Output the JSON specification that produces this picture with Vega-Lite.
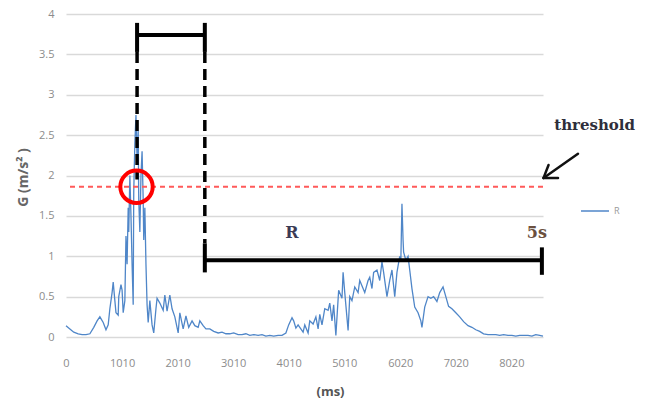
{
  "$schema": "https://vega.github.io/schema/vega-lite/v6.json",
  "width": 477,
  "height": 323,
  "autosize": {"type": "none"},
  "padding": {"left": 66, "top": 14, "right": 111, "bottom": 70},
  "background": "white",
  "config": {
    "view": {"stroke": null},
    "axis": {"labelFont": "Open Sans", "labelColor": "#8c8c8c", "labelFontSize": 11, "titleFont": "Open Sans", "titleColor": "#666666"}
  },
  "layer": [
    {
      "data": {"values": [
        {"ms":0,"G":0.14},{"ms":70,"G":0.10},{"ms":140,"G":0.06},{"ms":220,"G":0.04},{"ms":290,"G":0.03},{"ms":360,"G":0.03},{"ms":430,"G":0.04},{"ms":500,"G":0.12},{"ms":560,"G":0.20},{"ms":610,"G":0.25},{"ms":670,"G":0.18},{"ms":720,"G":0.09},{"ms":760,"G":0.15},{"ms":790,"G":0.35},{"ms":830,"G":0.55},{"ms":850,"G":0.68},{"ms":880,"G":0.45},{"ms":900,"G":0.30},{"ms":940,"G":0.27},{"ms":950,"G":0.50},{"ms":990,"G":0.65},{"ms":1010,"G":0.58},{"ms":1030,"G":0.30},{"ms":1060,"G":0.45},{"ms":1080,"G":1.25},{"ms":1100,"G":0.90},{"ms":1120,"G":1.60},{"ms":1130,"G":1.30},{"ms":1150,"G":2.00},{"ms":1170,"G":1.50},{"ms":1190,"G":0.90},{"ms":1210,"G":0.40},{"ms":1220,"G":1.80},{"ms":1240,"G":2.40},{"ms":1260,"G":2.75},{"ms":1280,"G":2.20},{"ms":1300,"G":2.55},{"ms":1310,"G":1.70},{"ms":1330,"G":1.30},{"ms":1350,"G":2.00},{"ms":1370,"G":2.30},{"ms":1390,"G":1.70},{"ms":1400,"G":1.20},{"ms":1420,"G":1.60},{"ms":1440,"G":0.90},{"ms":1460,"G":0.40},{"ms":1480,"G":0.18},{"ms":1510,"G":0.45},{"ms":1550,"G":0.15},{"ms":1580,"G":0.05},{"ms":1620,"G":0.35},{"ms":1640,"G":0.48},{"ms":1690,"G":0.42},{"ms":1750,"G":0.33},{"ms":1780,"G":0.52},{"ms":1820,"G":0.32},{"ms":1870,"G":0.52},{"ms":1910,"G":0.35},{"ms":1960,"G":0.25},{"ms":2020,"G":0.05},{"ms":2050,"G":0.30},{"ms":2110,"G":0.10},{"ms":2160,"G":0.26},{"ms":2210,"G":0.12},{"ms":2270,"G":0.20},{"ms":2320,"G":0.14},{"ms":2380,"G":0.12},{"ms":2410,"G":0.20},{"ms":2470,"G":0.14},{"ms":2520,"G":0.10},{"ms":2590,"G":0.10},{"ms":2660,"G":0.07},{"ms":2740,"G":0.05},{"ms":2810,"G":0.06},{"ms":2880,"G":0.04},{"ms":2950,"G":0.04},{"ms":3020,"G":0.05},{"ms":3100,"G":0.03},{"ms":3170,"G":0.03},{"ms":3240,"G":0.04},{"ms":3310,"G":0.02},{"ms":3380,"G":0.03},{"ms":3460,"G":0.02},{"ms":3530,"G":0.03},{"ms":3600,"G":0.01},{"ms":3670,"G":0.02},{"ms":3740,"G":0.01},{"ms":3820,"G":0.02},{"ms":3890,"G":0.02},{"ms":3960,"G":0.05},{"ms":4010,"G":0.15},{"ms":4070,"G":0.24},{"ms":4100,"G":0.20},{"ms":4140,"G":0.11},{"ms":4180,"G":0.15},{"ms":4210,"G":0.12},{"ms":4270,"G":0.06},{"ms":4300,"G":0.15},{"ms":4360,"G":0.05},{"ms":4390,"G":0.20},{"ms":4450,"G":0.16},{"ms":4500,"G":0.25},{"ms":4540,"G":0.10},{"ms":4570,"G":0.28},{"ms":4610,"G":0.15},{"ms":4660,"G":0.35},{"ms":4720,"G":0.33},{"ms":4750,"G":0.42},{"ms":4790,"G":0.20},{"ms":4820,"G":0.40},{"ms":4860,"G":0.02},{"ms":4910,"G":0.58},{"ms":4970,"G":0.48},{"ms":4990,"G":0.80},{"ms":5020,"G":0.55},{"ms":5080,"G":0.08},{"ms":5110,"G":0.50},{"ms":5150,"G":0.45},{"ms":5200,"G":0.62},{"ms":5260,"G":0.55},{"ms":5290,"G":0.70},{"ms":5350,"G":0.60},{"ms":5380,"G":0.55},{"ms":5440,"G":0.70},{"ms":5470,"G":0.74},{"ms":5510,"G":0.60},{"ms":5540,"G":0.80},{"ms":5600,"G":0.83},{"ms":5650,"G":0.70},{"ms":5690,"G":0.93},{"ms":5720,"G":0.80},{"ms":5780,"G":0.50},{"ms":5830,"G":0.70},{"ms":5870,"G":0.83},{"ms":5920,"G":0.50},{"ms":5960,"G":0.80},{"ms":6010,"G":1.00},{"ms":6030,"G":0.95},{"ms":6050,"G":1.65},{"ms":6070,"G":1.20},{"ms":6080,"G":1.05},{"ms":6120,"G":0.95},{"ms":6160,"G":1.00},{"ms":6190,"G":0.83},{"ms":6230,"G":0.60},{"ms":6280,"G":0.37},{"ms":6340,"G":0.30},{"ms":6390,"G":0.20},{"ms":6410,"G":0.12},{"ms":6460,"G":0.37},{"ms":6520,"G":0.50},{"ms":6570,"G":0.48},{"ms":6620,"G":0.50},{"ms":6680,"G":0.44},{"ms":6730,"G":0.55},{"ms":6790,"G":0.62},{"ms":6840,"G":0.50},{"ms":6890,"G":0.38},{"ms":6950,"G":0.35},{"ms":7020,"G":0.30},{"ms":7090,"G":0.25},{"ms":7160,"G":0.19},{"ms":7240,"G":0.14},{"ms":7310,"G":0.12},{"ms":7380,"G":0.09},{"ms":7450,"G":0.07},{"ms":7520,"G":0.04},{"ms":7600,"G":0.03},{"ms":7670,"G":0.03},{"ms":7740,"G":0.03},{"ms":7810,"G":0.02},{"ms":7880,"G":0.03},{"ms":7960,"G":0.02},{"ms":8030,"G":0.02},{"ms":8100,"G":0.01},{"ms":8170,"G":0.02},{"ms":8240,"G":0.02},{"ms":8320,"G":0.02},{"ms":8390,"G":0.01},{"ms":8460,"G":0.03},{"ms":8530,"G":0.02},{"ms":8590,"G":0.01}
      ]},
      "mark": {"type": "line", "strokeWidth": 1.3, "interpolate": "linear"},
      "encoding": {
        "x": {"field": "ms", "type": "quantitative", "scale": {"domain": [0, 8590], "nice": false, "zero": false},
          "axis": {"values": [0,1010,2010,3010,4010,5010,6020,7020,8020], "format": "d", "grid": false, "domain": false, "ticks": false, "labelPadding": 20, "title": "(ms)", "titleFontSize": 13, "titleFontWeight": "bold", "titleX": 264, "titleY": 54, "titleBaseline": "middle", "titleColor": "#555555", "labelFlush": false}},
        "y": {"field": "G", "type": "quantitative", "scale": {"domain": [0, 4], "nice": false},
          "axis": {"values": [0,0.5,1,1.5,2,2.5,3,3.5,4], "format": "~g", "grid": true, "gridColor": "#d9d9d9", "gridWidth": 1.5, "domain": false, "ticks": false, "labelPadding": 12, "title": "G (m/s² )", "titleFontSize": 14, "titleFontWeight": "bold", "titleX": -43, "titleY": 163, "titleBaseline": "middle", "titleAngle": -90}},
        "color": {"datum": "R", "scale": {"range": ["#4f86c8"]},
          "legend": {"title": null, "orient": "none", "legendX": 514, "legendY": 182, "symbolType": "stroke", "symbolSize": 784, "symbolStrokeWidth": 1.5, "labelFontSize": 9, "labelColor": "#999999", "labelFont": "Open Sans"}}
      }
    },
    {
      "data": {"values": [{"G": 1.86}]},
      "mark": {"type": "rule", "color": "#ff5a5a", "strokeWidth": 2, "strokeDash": [5, 4]},
      "encoding": {"y": {"field": "G", "type": "quantitative", "scale": {"domain": [0, 4], "nice": false}}}
    },
    {
      "data": {"values": [{"ms": 1280, "G": 3.53, "G2": 1.95}, {"ms": 2500, "G": 3.53, "G2": 1.16}]},
      "mark": {"type": "rule", "color": "black", "strokeWidth": 3.5, "strokeDash": [11, 6]},
      "encoding": {
        "x": {"field": "ms", "type": "quantitative", "scale": {"domain": [0, 8590], "nice": false, "zero": false}},
        "y": {"field": "G", "type": "quantitative", "scale": {"domain": [0, 4], "nice": false}},
        "y2": {"field": "G2"}
      }
    },
    {
      "data": {"values": [{"ms": 1270, "G": 1.86}]},
      "mark": {"type": "point", "shape": "circle", "filled": false, "stroke": "#ff0000", "strokeWidth": 4, "size": 1050, "opacity": 1},
      "encoding": {
        "x": {"field": "ms", "type": "quantitative", "scale": {"domain": [0, 8590], "nice": false, "zero": false}},
        "y": {"field": "G", "type": "quantitative", "scale": {"domain": [0, 4], "nice": false}}
      }
    },
    {
      "data": {"values": [
        {"ms": 1280, "ms2": 2500, "G": 3.74, "G2": 3.74},
        {"ms": 1280, "ms2": 1280, "G": 3.89, "G2": 3.53},
        {"ms": 2500, "ms2": 2500, "G": 3.89, "G2": 3.53},
        {"ms": 2500, "ms2": 8570, "G": 0.95, "G2": 0.95},
        {"ms": 2500, "ms2": 2500, "G": 1.16, "G2": 0.80},
        {"ms": 8570, "ms2": 8570, "G": 1.11, "G2": 0.77}
      ]},
      "mark": {"type": "rule", "color": "black", "strokeWidth": 4},
      "encoding": {
        "x": {"field": "ms", "type": "quantitative", "scale": {"domain": [0, 8590], "nice": false, "zero": false}},
        "x2": {"field": "ms2"},
        "y": {"field": "G", "type": "quantitative", "scale": {"domain": [0, 4], "nice": false}},
        "y2": {"field": "G2"}
      }
    },
    {
      "data": {"values": [
        {"ms": 9220, "ms2": 8600, "G": 2.27, "G2": 1.97},
        {"ms": 8600, "ms2": 8860, "G": 1.97, "G2": 1.97},
        {"ms": 8600, "ms2": 8690, "G": 1.97, "G2": 2.13}
      ]},
      "mark": {"type": "rule", "color": "#111111", "strokeWidth": 2.5, "strokeCap": "round"},
      "encoding": {
        "x": {"field": "ms", "type": "quantitative", "scale": {"domain": [0, 8590], "nice": false, "zero": false}},
        "x2": {"field": "ms2"},
        "y": {"field": "G", "type": "quantitative", "scale": {"domain": [0, 4], "nice": false}},
        "y2": {"field": "G2"}
      }
    },
    {
      "data": {"values": [{"ms": 4070, "G": 1.29, "label": "R"}]},
      "mark": {"type": "text", "font": "DejaVu Serif", "fontSize": 16, "fontWeight": "bold", "color": "#3b3b55", "baseline": "middle", "align": "center"},
      "encoding": {
        "x": {"field": "ms", "type": "quantitative", "scale": {"domain": [0, 8590], "nice": false, "zero": false}},
        "y": {"field": "G", "type": "quantitative", "scale": {"domain": [0, 4], "nice": false}},
        "text": {"field": "label"}
      }
    },
    {
      "data": {"values": [{"ms": 8480, "G": 1.29, "label": "5s"}]},
      "mark": {"type": "text", "font": "DejaVu Serif", "fontSize": 16, "fontWeight": "bold", "color": "#6b5040", "baseline": "middle", "align": "center"},
      "encoding": {
        "x": {"field": "ms", "type": "quantitative", "scale": {"domain": [0, 8590], "nice": false, "zero": false}},
        "y": {"field": "G", "type": "quantitative", "scale": {"domain": [0, 4], "nice": false}},
        "text": {"field": "label"}
      }
    },
    {
      "data": {"values": [{"ms": 9520, "G": 2.63, "label": "threshold"}]},
      "mark": {"type": "text", "font": "DejaVu Serif", "fontSize": 15, "fontWeight": "bold", "color": "#2e2e3a", "baseline": "middle", "align": "center"},
      "encoding": {
        "x": {"field": "ms", "type": "quantitative", "scale": {"domain": [0, 8590], "nice": false, "zero": false}},
        "y": {"field": "G", "type": "quantitative", "scale": {"domain": [0, 4], "nice": false}},
        "text": {"field": "label"}
      }
    }
  ]
}
